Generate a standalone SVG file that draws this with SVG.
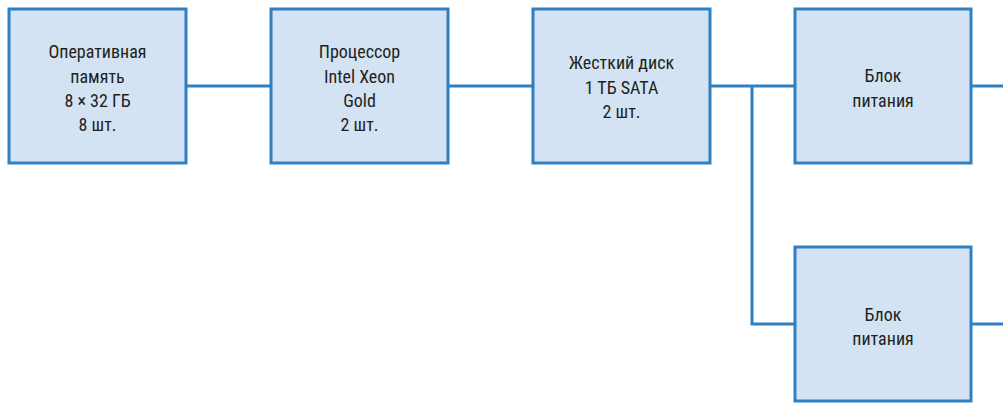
<svg xmlns="http://www.w3.org/2000/svg" width="1003" height="403" viewBox="0 0 1003 403">
<style>
.box{fill:#d3e3f4;stroke:#2f80c3;stroke-width:3}
.wire{fill:none;stroke:#2f80c3;stroke-width:3}
text{font-family:"Liberation Sans Narrow","Roboto Condensed","Liberation Sans",sans-serif;font-size:18px;fill:#231f20;text-anchor:middle}
</style>
<rect width="1003" height="403" fill="#ffffff"/>
<g id="connectors">
<path class="wire" d="M186 86H271"/>
<path class="wire" d="M448 86H533"/>
<path class="wire" d="M710 86H795"/>
<path class="wire" d="M752 86V324H795"/>
<path class="wire" d="M971 86H1003"/>
<path class="wire" d="M971 324H1003"/>
</g>
<g id="ram">
<rect class="box" x="9" y="9" width="177" height="154"/>
<text x="97.5" y="58">Оперативная</text>
<text x="97.5" y="82.5">память</text>
<text x="97.5" y="107">8 × 32 ГБ</text>
<text x="97.5" y="131">8 шт.</text>
</g>
<g id="cpu">
<rect class="box" x="271" y="9" width="177" height="154"/>
<text x="359.5" y="58">Процессор</text>
<text x="359.5" y="82.5">Intel Xeon</text>
<text x="359.5" y="107">Gold</text>
<text x="359.5" y="131">2 шт.</text>
</g>
<g id="hdd">
<rect class="box" x="533" y="9" width="177" height="154"/>
<text x="621.5" y="69">Жесткий диск</text>
<text x="621.5" y="93.5">1 ТБ SATA</text>
<text x="621.5" y="118">2 шт.</text>
</g>
<g id="psu1">
<rect class="box" x="795" y="9" width="176" height="154"/>
<text x="883" y="82">Блок</text>
<text x="883" y="106.5">питания</text>
</g>
<g id="psu2">
<rect class="box" x="795" y="247" width="176" height="154"/>
<text x="883" y="320.5">Блок</text>
<text x="883" y="345">питания</text>
</g>
</svg>
